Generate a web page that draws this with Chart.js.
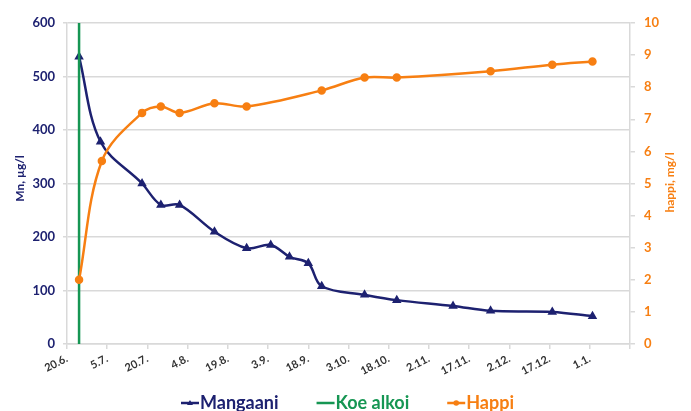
<!DOCTYPE html>
<html>
<head>
<meta charset="utf-8">
<script src="https://cdn.jsdelivr.net/npm/chart.js@4.4.1/dist/chart.umd.min.js"></script>
<style>
  html, body { margin: 0; padding: 0; background: #fff; }
  #wrap { width: 691px; height: 411px; position: relative; }
</style>
</head>
<body>
<div id="wrap"><canvas id="chart"></canvas></div>
<script>
// days counted from 20.6.
const tickLabels = ["20.6.", "5.7.", "20.7.", "4.8.", "19.8.", "3.9.", "18.9.", "3.10.", "18.10.", "2.11.", "17.11.", "2.12.", "17.12.", "1.1."];
const startDay = 4.5;

const mnDays = [4.5, 12.5, 28, 35, 42, 55, 67, 76, 83, 90, 95, 111, 123, 144, 158, 181, 196];
const mnValues = [537, 378, 300, 260, 260, 210, 179, 185, 163, 151, 108, 92, 82, 71, 62, 60, 52];

const phDays = [4.5, 13, 28, 35, 42, 55, 67, 95, 111, 123, 158, 181, 196];
const phValues = [2.0, 5.7, 7.2, 7.4, 7.2, 7.5, 7.4, 7.9, 8.3, 8.3, 8.5, 8.7, 8.8];

const legendNames = ["Mangaani", "Koe alkoi", "Happi"];

const NAVY = "#1d2170";
const GREEN = "#169653";
const ORANGE = "#f77f12";
const GRID = "#d9d9d9";
const FONT = "Lato, 'Open Sans', sans-serif";

// legend drawn by hand: Chart.js uses the same padding for row height and item gap
const bottomLegend = {
  id: "bottomLegend",
  afterDraw(chart) {
    const ctx = chart.ctx;
    const colors = [NAVY, GREEN, ORANGE];
    const markers = ["triangle", "none", "circle"];
    const gap = 38, icon = 18, iconGap = 1;
    const y = chart.height - 8;
    ctx.save();
    ctx.font = "bold 18px " + FONT;
    ctx.textBaseline = "middle";
    const widths = legendNames.map((t) => icon + iconGap + ctx.measureText(t).width);
    const total = widths.reduce((a, b) => a + b, 0) + gap * (widths.length - 1);
    let x = (chart.width - total) / 2 + 2;
    legendNames.forEach((name, i) => {
      ctx.strokeStyle = colors[i];
      ctx.fillStyle = colors[i];
      ctx.lineWidth = 2.5;
      ctx.beginPath();
      ctx.moveTo(x, y);
      ctx.lineTo(x + icon, y);
      ctx.stroke();
      const cx = x + icon / 2;
      if (markers[i] === "triangle") {
        ctx.beginPath();
        ctx.moveTo(cx, y - 3);
        ctx.lineTo(cx + 3, y + 2);
        ctx.lineTo(cx - 3, y + 2);
        ctx.closePath();
        ctx.fill();
      } else if (markers[i] === "circle") {
        ctx.beginPath();
        ctx.arc(cx, y, 2.8, 0, Math.PI * 2);
        ctx.fill();
      }
      ctx.fillText(name, x + icon + iconGap, y);
      x += widths[i] + gap;
    });
    ctx.restore();
  },
};

const axisTitles = {
  id: "axisTitles",
  afterDraw(chart) {
    const ctx = chart.ctx;
    const area = chart.chartArea;
    const mid = (area.top + area.bottom) / 2;
    ctx.save();
    ctx.font = "bold 12px " + FONT;
    ctx.textAlign = "center";
    ctx.textBaseline = "middle";
    ctx.translate(20, mid - 5);
    ctx.rotate(-Math.PI / 2);
    ctx.fillStyle = NAVY;
    ctx.fillText("Mn, µg/l", 0, 0);
    ctx.restore();
    ctx.save();
    ctx.font = "bold 12px " + FONT;
    ctx.textAlign = "center";
    ctx.textBaseline = "middle";
    ctx.translate(670, mid - 1);
    ctx.rotate(-Math.PI / 2);
    ctx.fillStyle = ORANGE;
    ctx.fillText("happi, mg/l", 0, 0);
    ctx.restore();
  },
};

new Chart(document.getElementById("chart"), {
  type: "line",
  data: {
    datasets: [
      {
        label: legendNames[0],
        data: mnDays.map((d, i) => ({ x: d, y: mnValues[i] })),
        yAxisID: "y",
        borderColor: NAVY,
        backgroundColor: NAVY,
        borderWidth: 2.5,
        pointStyle: "triangle",
        pointRadius: 3,
        tension: 0.35,
        order: 2,
      },
      {
        label: legendNames[1],
        data: [{ x: startDay, y: 0 }, { x: startDay, y: 600 }],
        yAxisID: "y",
        borderColor: GREEN,
        backgroundColor: GREEN,
        borderWidth: 2.5,
        pointRadius: 0,
        order: 1,
      },
      {
        label: legendNames[2],
        data: phDays.map((d, i) => ({ x: d, y: phValues[i] })),
        yAxisID: "y1",
        borderColor: ORANGE,
        backgroundColor: ORANGE,
        borderWidth: 2.5,
        pointStyle: "circle",
        pointRadius: 3,
        tension: 0.35,
        order: 0,
      },
    ],
  },
  options: {
    responsive: true,
    maintainAspectRatio: false,
    animation: false,
    layout: { padding: { top: 23, bottom: 26, left: 0, right: 0 } },
    plugins: {
      tooltip: { enabled: false },
      legend: { display: false },
    },
    scales: {
      x: {
        type: "linear",
        min: 0,
        max: 210,
        afterFit: (s) => { s.height = 41; },
        ticks: {
          stepSize: 15,
          autoSkip: false,
          minRotation: 27,
          maxRotation: 27,
          color: "#333333",
          font: { family: FONT, size: 11, weight: "bold" },
          callback: (v) => tickLabels[v / 15] ?? "",
        },
        grid: { drawOnChartArea: false, color: GRID, tickLength: 5, lineWidth: 1.5 },
        border: { color: GRID, width: 1.5 },
      },
      y: {
        position: "left",
        min: 0,
        max: 600,
        afterFit: (s) => { s.width = 67; },
        ticks: {
          stepSize: 100,
          color: NAVY,
          padding: 8,
          font: { family: FONT, size: 13, weight: "bold" },
        },
        grid: { color: GRID, lineWidth: 1.5, tickLength: 4 },
        border: { color: GRID, width: 1.5 },
      },
      y1: {
        position: "right",
        min: 0,
        max: 10,
        afterFit: (s) => { s.width = 61; },
        ticks: {
          stepSize: 1,
          color: ORANGE,
          padding: 9,
          font: { family: FONT, size: 13, weight: "bold" },
        },
        grid: { drawOnChartArea: false, color: GRID, lineWidth: 1.5, tickLength: 5 },
        border: { color: GRID, width: 1.5 },
      },
    },
  },
  plugins: [axisTitles, bottomLegend],
});
</script>
</body>
</html>
